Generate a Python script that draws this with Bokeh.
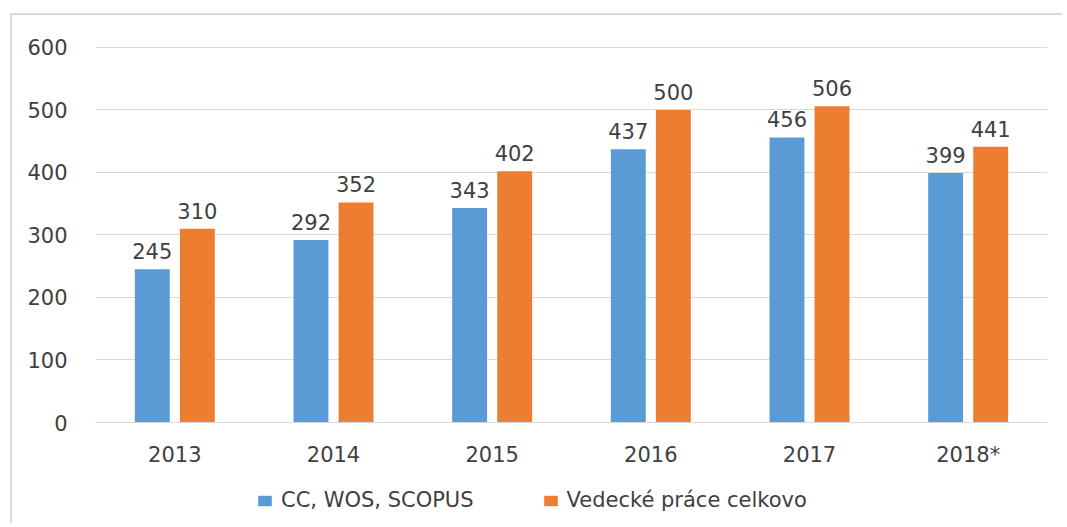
from bokeh.plotting import figure
from bokeh.layouts import column
from bokeh.models import ColumnDataSource, FixedTicker, Legend, LegendItem, Range1d, LabelSet
from bokeh.transform import dodge
from bokeh.core.properties import value
from bokeh.embed import file_html
from bokeh.resources import INLINE

years = ["2013", "2014", "2015", "2016", "2017", "2018*"]
cc_wos_scopus = [245, 292, 343, 437, 456, 399]
vedecke_prace = [310, 352, 402, 500, 506, 441]
series_names = ["CC, WOS, SCOPUS", "Vedecké práce celkovo"]
y_ticks = [0, 100, 200, 300, 400, 500, 600]

BLUE = "#5B9BD5"
ORANGE = "#ED7D31"
TXT = "#404040"
FONT = "DejaVu Sans"
FS = "21px"

src = ColumnDataSource(dict(
    year=years,
    a=cc_wos_scopus,
    b=vedecke_prace,
    a_lbl=[str(v) for v in cc_wos_scopus],
    b_lbl=[str(v) for v in vedecke_prace],
))

p = figure(width=1050, height=460, x_range=years, y_range=Range1d(0, 601.5),
           output_backend="svg", toolbar_location=None,
           min_border_left=83, min_border_right=15, min_border_top=31, min_border_bottom=53)
p.outline_line_color = None
p.background_fill_color = "white"
p.border_fill_color = "white"

off = 0.142
w = 0.22
p.vbar(x=dodge("year", -off, range=p.x_range), top="a", width=w, source=src,
       fill_color=BLUE, line_color=None)
p.vbar(x=dodge("year", off, range=p.x_range), top="b", width=w, source=src,
       fill_color=ORANGE, line_color=None)

for col, lbl, o in (("a", "a_lbl", -off), ("b", "b_lbl", off)):
    p.add_layout(LabelSet(x=dodge("year", o, range=p.x_range), y=col, text=lbl, source=src,
                          text_align="center", text_baseline="bottom", y_offset=10,
                          text_font=value(FONT), text_font_size=value(FS), text_color=TXT))

p.xgrid.grid_line_color = None
p.ygrid.grid_line_color = "#d9d9d9"
p.ygrid.grid_line_width = 1
p.yaxis.ticker = FixedTicker(ticks=y_ticks)

for ax in (p.xaxis[0], p.yaxis[0]):
    ax.major_tick_line_color = None
    ax.minor_tick_line_color = None
    ax.major_label_text_font = FONT
    ax.major_label_text_font_size = FS
    ax.major_label_text_color = TXT
p.yaxis.axis_line_color = None
p.yaxis.major_label_standoff = 22
p.xaxis.axis_line_color = "#d9d9d9"
p.xaxis.axis_line_width = 1
p.xaxis.major_label_standoff = 14

# legend strip: hidden renderers only supply the legend swatches
lf = figure(width=1050, height=48, x_range=years, y_range=Range1d(0, 600),
            output_backend="svg", toolbar_location=None,
            min_border=0, min_border_left=0, min_border_right=0,
            min_border_top=0, min_border_bottom=0)
lf.axis.visible = False
lf.grid.visible = False
lf.outline_line_color = None
lf.border_fill_color = "white"
lf.background_fill_color = "white"
g1 = lf.vbar(x="year", top="a", width=0.2, source=src, fill_color=BLUE, line_color=None)
g2 = lf.vbar(x="year", top="b", width=0.2, source=src, fill_color=ORANGE, line_color=None)
g1.visible = False
g2.visible = False
legend = Legend(items=[LegendItem(label=series_names[0], renderers=[g1]),
                       LegendItem(label=series_names[1], renderers=[g2])],
                location=(161, 11), orientation="horizontal",
                glyph_width=17, glyph_height=13, label_standoff=8, spacing=68,
                padding=0, margin=0, border_line_color=None, background_fill_alpha=0,
                inactive_fill_alpha=0,
                label_text_font=FONT, label_text_font_size=FS, label_text_color=TXT)
lf.add_layout(legend, "center")

layout = column(p, lf, spacing=0)
layout.styles = {"margin-left": "10px", "margin-top": "13px",
                 "border-left": "2px solid #d9d9d9", "border-top": "2px solid #d9d9d9"}

open("out.html", "w").write(file_html(layout, INLINE))
